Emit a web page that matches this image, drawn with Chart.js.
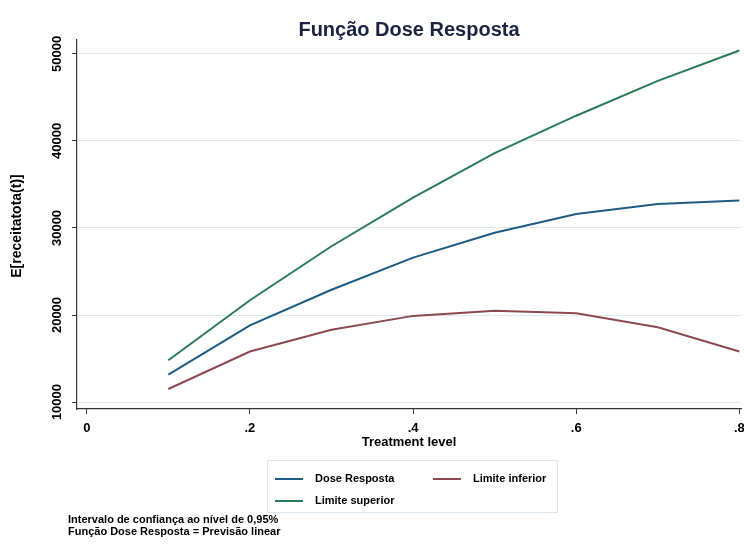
<!DOCTYPE html>
<html>
<head>
<meta charset="utf-8">
<script src="https://cdn.jsdelivr.net/npm/chart.js@4.4.1/dist/chart.umd.min.js"></script>
<style>
  html, body { margin: 0; padding: 0; background: #fff; }
  #wrap { width: 744px; height: 549px; }
</style>
</head>
<body>
<div id="wrap"><canvas id="doseChart" width="744" height="549"></canvas></div>
<script>
// Data
const treatment = [0.1, 0.2, 0.3, 0.4, 0.5, 0.6, 0.7, 0.8];
const doseResposta = [13150, 18800, 22900, 26600, 29450, 31600, 32750, 33150];
const limiteInferior = [11500, 15800, 18300, 19900, 20500, 20200, 18600, 15800];
const limiteSuperior = [14800, 21700, 27900, 33500, 38600, 42900, 46900, 50400];

const xTicks = [0, 0.2, 0.4, 0.6, 0.8];
const xTickLabels = ["0", ".2", ".4", ".6", ".8"];
const yTicks = [10000, 20000, 30000, 40000, 50000];

const titleText = "Função Dose Resposta";
const xTitle = "Treatment level";
const yTitle = "E[receitatota(t)]";
const notes = [
  "Intervalo de confiança ao nível de 0,95%",
  "Função Dose Resposta = Previsão linear"
];

const FONT = "'Liberation Sans', Arial, Helvetica, sans-serif";

function toPoints(values) {
  return treatment.map((t, i) => ({ x: t, y: values[i] }));
}

// Draws title, rotated y labels, legend box and notes
const decorPlugin = {
  id: "decor",
  afterDraw(chart) {
    const ctx = chart.ctx;
    const area = chart.chartArea;
    const yScale = chart.scales.y;
    ctx.save();

    // title
    ctx.fillStyle = "#1a2340";
    ctx.font = "bold 20px " + FONT;
    ctx.textAlign = "center";
    ctx.textBaseline = "middle";
    ctx.fillText(titleText, (area.left + area.right) / 2, 30);

    // y tick labels (vertical)
    ctx.fillStyle = "#000";
    ctx.font = "bold 13px " + FONT;
    yTicks.forEach(v => {
      const py = yScale.getPixelForValue(v);
      ctx.save();
      ctx.translate(57, py);
      ctx.rotate(-Math.PI / 2);
      ctx.fillText(String(v), 0, 0);
      ctx.restore();
    });

    // y title
    ctx.save();
    ctx.translate(17, 226);
    ctx.rotate(-Math.PI / 2);
    ctx.font = "bold 14px " + FONT;
    ctx.fillText(yTitle, 0, 0);
    ctx.restore();

    // legend box
    ctx.strokeStyle = "#dbe7f0";
    ctx.lineWidth = 1;
    ctx.strokeRect(267.5, 460.5, 290, 52);

    const ds = chart.data.datasets;
    const slots = [
      { x: 275, y: 479 },
      { x: 433, y: 479 },
      { x: 275, y: 501 }
    ];
    ctx.font = "bold 11px " + FONT;
    ctx.textAlign = "left";
    ds.forEach((d, i) => {
      const s = slots[i];
      ctx.strokeStyle = d.borderColor;
      ctx.lineWidth = 2;
      ctx.beginPath();
      ctx.moveTo(s.x, s.y);
      ctx.lineTo(s.x + 28, s.y);
      ctx.stroke();
      ctx.fillStyle = "#000";
      ctx.fillText(d.label, s.x + 40, s.y);
    });

    // notes
    ctx.font = "bold 11px " + FONT;
    ctx.fillText(notes[0], 68, 520);
    ctx.fillText(notes[1], 68, 532);

    ctx.restore();
  }
};

const ctx = document.getElementById("doseChart").getContext("2d");
const doseChart = new Chart(ctx, {
  type: "line",
  data: {
    datasets: [
      {
        label: "Dose Resposta",
        data: toPoints(doseResposta),
        borderColor: "#1e5b82",
        borderWidth: 2,
        pointRadius: 0,
        tension: 0,
        fill: false
      },
      {
        label: "Limite inferior",
        data: toPoints(limiteInferior),
        borderColor: "#8c4a50",
        borderWidth: 2,
        pointRadius: 0,
        tension: 0,
        fill: false
      },
      {
        label: "Limite superior",
        data: toPoints(limiteSuperior),
        borderColor: "#2b7a58",
        borderWidth: 2,
        pointRadius: 0,
        tension: 0,
        fill: false
      }
    ]
  },
  options: {
    responsive: false,
    animation: false,
    layout: { padding: { top: 40, right: 3, bottom: 92, left: 0 } },
    plugins: {
      legend: { display: false },
      title: { display: false },
      tooltip: { enabled: false }
    },
    scales: {
      x: {
        type: "linear",
        min: -0.012,
        max: 0.802,
        afterBuildTicks(scale) {
          scale.ticks = xTicks.map(v => ({ value: v }));
        },
        afterFit(scale) {
          scale.height = 48;
          scale.paddingLeft = 0;
          scale.paddingRight = 0;
        },
        ticks: {
          color: "#000",
          padding: 7,
          font: { family: FONT, size: 13, weight: "bold" },
          callback: (v) => xTickLabels[xTicks.indexOf(v)] ?? ""
        },
        grid: {
          drawOnChartArea: false,
          drawTicks: true,
          tickLength: 5,
          tickColor: "#333"
        },
        border: { color: "#333", width: 1.2 },
        title: {
          display: true,
          text: xTitle,
          color: "#000",
          font: { family: FONT, size: 13, weight: "bold" },
          padding: { top: 0, bottom: 7 }
        }
      },
      y: {
        type: "linear",
        min: 9200,
        max: 51600,
        afterBuildTicks(scale) {
          scale.ticks = yTicks.map(v => ({ value: v }));
        },
        afterFit(scale) {
          scale.width = 77;
          scale.paddingTop = 0;
          scale.paddingBottom = 0;
        },
        ticks: { display: false },
        grid: {
          color: "#dde9f3",
          lineWidth: 1,
          drawTicks: true,
          tickLength: 5,
          tickColor: "#333"
        },
        border: { color: "#333", width: 1.2 }
      }
    }
  },
  plugins: [decorPlugin]
});
</script>
</body>
</html>
